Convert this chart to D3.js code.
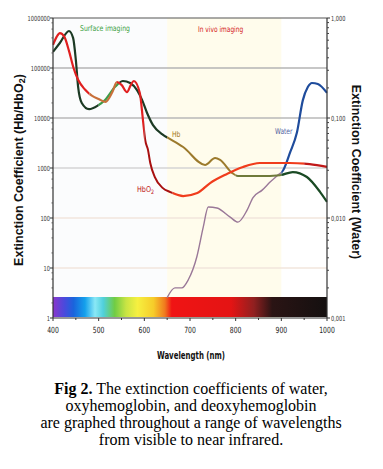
<!DOCTYPE html>
<html><head><meta charset="utf-8">
<script src="https://cdn.jsdelivr.net/npm/d3@7"></script>
<style>
html,body{margin:0;padding:0;background:#fff;}
svg{display:block;}
.narrow{font-family:"Liberation Sans Narrow","DejaVu Sans Condensed","Arial Narrow","Liberation Sans",sans-serif;}
</style></head>
<body>
<svg id="chart" width="383" height="469"></svg>
<script>
// ---------- data ----------
const hbWavelength = [400,415,435,444,450,455,463,479,499,514,536,553,569,584,595,606,619,641,652,685,733,755,766,792,805,853,897,925,956,985,1000];
const hbValues     = [210000,316000,550000,400000,145000,42000,20000,15000,18000,23000,42000,55000,50000,36000,23000,12600,7200,4600,4000,2630,1150,1580,1450,800,690,690,720,830,660,330,210];

const hbo2Wavelength = [400,408,415,425,435,445,455,470,485,500,515,530,540,550,562,570,577,590,597,602,608,613,623,640,657,685,716,744,781,816,853,890,918,962,1000];
const hbo2Values     = [290000,420000,500000,420000,220000,100000,58000,37000,28000,24000,21000,33000,52000,46000,33000,45000,55000,32000,9100,3600,2300,1260,660,400,330,275,316,500,760,1050,1260,1260,1260,1200,1050];

const waterWavelength = [650,667,682,696,715,729,740,759,788,805,825,838,858,876,893,904,919,934,947,958,967,980,1000];
const waterValues     = [0.0016,0.0020,0.0020,0.0024,0.0041,0.0081,0.0129,0.0126,0.0102,0.0091,0.012,0.016,0.019,0.023,0.027,0.030,0.045,0.071,0.15,0.204,0.224,0.219,0.178];

const xTicks = [400,500,600,700,800,900,1000];
const leftTicks = [1,10,100,1000,10000,100000,1000000];
const leftTickLabels = ["1","10","100","1000","10000","100000","1000000"];
const rightTicks = [0.001,0.01,0.1,1];
const rightTickLabels = ["0,001","0,010","0,100","1,000"];

const spectrumStops = [[400,"#8a36cc"],[425,"#4a4adc"],[445,"#1a64dc"],[470,"#14a0ec"],[492,"#8ae8f6"],[510,"#50d0dc"],[535,"#70cc44"],[560,"#c8e444"],[585,"#f6f040"],[620,"#f6cc2a"],[645,"#f07a1e"],[660,"#f01414"],[790,"#e41414"],[840,"#902020"],[880,"#2a1414"],[1000,"#141010"]];

const captionLines = [
  [{t:"Fig 2.",b:true},{t:" The extinction coefficients of water,",b:false}],
  [{t:"oxyhemoglobin, and deoxyhemoglobin",b:false}],
  [{t:"are graphed throughout a range of wavelengths",b:false}],
  [{t:"from visible to near infrared.",b:false}]
];

// ---------- layout ----------
const L = 53, R = 327, T = 18, B = 318;
const svg = d3.select("#chart");
const x = d3.scaleLinear().domain([400,1000]).range([L,R]);
const yL = d3.scaleLog().domain([1,1e6]).range([B,T]);
const yR = d3.scaleLog().domain([0.001,1]).range([B,T]);

// narrow text helper (horizontal compression)
function ntext(g,px,py,sx,size,anchor,fill,str){
  return g.append("text").attr("class","narrow")
    .attr("transform",`translate(${px},${py}) scale(${sx},1)`)
    .attr("text-anchor",anchor).attr("font-size",size).attr("fill",fill).text(str);
}

// backgrounds
svg.append("rect").attr("x",x(400)).attr("y",T).attr("width",x(650)-x(400)).attr("height",B-T).attr("fill","#fbfcfd");
svg.append("rect").attr("x",x(650)).attr("y",T).attr("width",x(900)-x(650)).attr("height",B-T).attr("fill","#fffcec");

// gridlines
const gridColor = {100000:"#b4b4b4",10000:"#b8b8b8",1000:"#d4d4d4",100:"#f2e6dc",10:"#f2e6dc"};
[10,100,1000,10000,100000].forEach(v=>{
  svg.append("line").attr("x1",L).attr("x2",R).attr("y1",yL(v)).attr("y2",yL(v))
    .attr("stroke",gridColor[v]).attr("stroke-width",1.4);
});
// top border
svg.append("line").attr("x1",L).attr("x2",R).attr("y1",T).attr("y2",T).attr("stroke","#555").attr("stroke-width",1.2);

// spectrum bar
const defs = svg.append("defs");
const grad = defs.append("linearGradient").attr("id","spec").attr("x1","0%").attr("x2","100%");
spectrumStops.forEach(s=>grad.append("stop").attr("offset",((s[0]-400)/600*100)+"%").attr("stop-color",s[1]));
svg.append("rect").attr("x",x(400)).attr("y",297).attr("width",x(1000)-x(400)).attr("height",B-1-297).attr("fill","url(#spec)");

// clip bands
function band(id,a,b){
  defs.append("clipPath").attr("id",id).append("rect")
    .attr("x",x(a)).attr("y",0).attr("width",x(b)-x(a)).attr("height",469);
  return "url(#"+id+")";
}
function drawSeries(wl,vals,yScale,bands,name){
  const pts = wl.map((w,i)=>[w,vals[i]]);
  const line = d3.line().x(d=>x(d[0])).y(d=>yScale(d[1])).curve(d3.curveMonotoneX);
  bands.forEach((bd,i)=>{
    svg.append("path").datum(pts).attr("d",line).attr("fill","none")
      .attr("stroke",bd[2]).attr("stroke-width",bd[3]).attr("stroke-linejoin","round")
      .attr("clip-path",band(name+i,bd[0],bd[1]));
  });
}
drawSeries(waterWavelength,waterValues,yR,[[640,900,"#9a7898",1.4],[900,1001,"#1f4c9c",2.2]],"w");
drawSeries(hbWavelength,hbValues,yL,[[399,500,"#1c3a24",2.2],[500,545,"#3c9c4a",2.2],[545,650,"#1c3a24",2.2],[650,800,"#9c7a2c",2],[800,900,"#6f7a3a",2],[900,1001,"#1a4a24",2.2]],"hb");
drawSeries(hbo2Wavelength,hbo2Values,yL,[[399,480,"#e02020",2.2],[480,540,"#c8703a",2.2],[540,600,"#e02020",2.2],[600,662,"#a81010",2],[662,950,"#f03c1c",2.2],[950,1001,"#c01818",2.2]],"o2");

// axes lines
svg.append("line").attr("x1",L).attr("x2",L).attr("y1",T).attr("y2",B).attr("stroke","#333").attr("stroke-width",1.2);
svg.append("line").attr("x1",R).attr("x2",R).attr("y1",T).attr("y2",B).attr("stroke","#333").attr("stroke-width",1.2);
svg.append("line").attr("x1",L).attr("x2",R).attr("y1",B).attr("y2",B).attr("stroke","#333").attr("stroke-width",1.2);

// left ticks
const gL = svg.append("g");
leftTicks.forEach((v,i)=>{
  gL.append("line").attr("x1",L-3).attr("x2",L).attr("y1",yL(v)).attr("y2",yL(v)).attr("stroke","#333");
  for(let m=2;m<10&&i<leftTicks.length-1;m+=2){
    gL.append("line").attr("x1",L-1.5).attr("x2",L).attr("y1",yL(v*m)).attr("y2",yL(v*m)).attr("stroke","#555");
  }
  ntext(gL,L-3,yL(v)+2.5,0.8,7,"end","#333",leftTickLabels[i]);
});
// right ticks
const gR = svg.append("g");
rightTicks.forEach((v,i)=>{
  gR.append("line").attr("x1",R).attr("x2",R+3).attr("y1",yR(v)).attr("y2",yR(v)).attr("stroke","#333");
  if(i<rightTicks.length-1){
    for(let m=2;m<10;m++){
      gR.append("line").attr("x1",R).attr("x2",R+2).attr("y1",yR(v*m)).attr("y2",yR(v*m)).attr("stroke","#444");
    }
  }
  ntext(gR,R+4,yR(v)+2.5,0.8,7,"start","#333",rightTickLabels[i]);
});
// bottom ticks
const gB = svg.append("g");
d3.range(400,1001,50).forEach(w=>{
  gB.append("line").attr("x1",x(w)).attr("x2",x(w)).attr("y1",B).attr("y2",B+(w%100===0?3:2)).attr("stroke","#333");
});
xTicks.forEach(w=>{
  ntext(gB,x(w),B+15,0.8,8.5,"middle","#222",w);
});

// in-plot labels
const lab = svg.append("g");
ntext(lab,80,31,0.85,8,"start","#3aa040","Surface imaging");
ntext(lab,198,32,0.82,8,"start","#d42020","In vivo imaging");
ntext(lab,172,137,0.85,8,"start","#a67a22","Hb");
const hbo2t = lab.append("text").attr("class","narrow").attr("transform","translate(137,192) scale(0.9,1)")
  .attr("font-size",8).attr("fill","#c01818");
hbo2t.append("tspan").text("HbO");
hbo2t.append("tspan").attr("dy",2).attr("font-size",6).text("2");
ntext(lab,275,134,0.82,8,"start","#5060a0","Water");

// axis titles
const tl = svg.append("text").attr("transform","translate(23,170) rotate(-90)").attr("text-anchor","middle")
  .attr("font-family","Liberation Sans, Arial, sans-serif").attr("font-weight","bold").attr("font-size",12.5).attr("fill","#111");
tl.append("tspan").text("Extinction Coefficient (Hb/HbO");
tl.append("tspan").attr("font-size",9).attr("dy",2).text("2");
tl.append("tspan").attr("dy",-2).text(")");
svg.append("text").attr("transform","translate(352,172) rotate(90)").attr("text-anchor","middle")
  .attr("font-family","Liberation Sans, Arial, sans-serif").attr("font-weight","bold").attr("font-size",12.5).attr("fill","#111")
  .text("Extinction Coefficient (Water)");
ntext(svg,191,359,0.78,10,"middle","#111","Wavelength (nm)").attr("font-weight","bold");

// caption
captionLines.forEach((ln,i)=>{
  const t = svg.append("text").attr("x",191).attr("y",394+i*17).attr("text-anchor","middle")
    .attr("font-family","Liberation Serif, Times New Roman, serif").attr("font-size",16).attr("fill","#000");
  ln.forEach(s=>t.append("tspan").attr("font-weight",s.b?"bold":"normal").text(s.t));
});
</script>
</body></html>
